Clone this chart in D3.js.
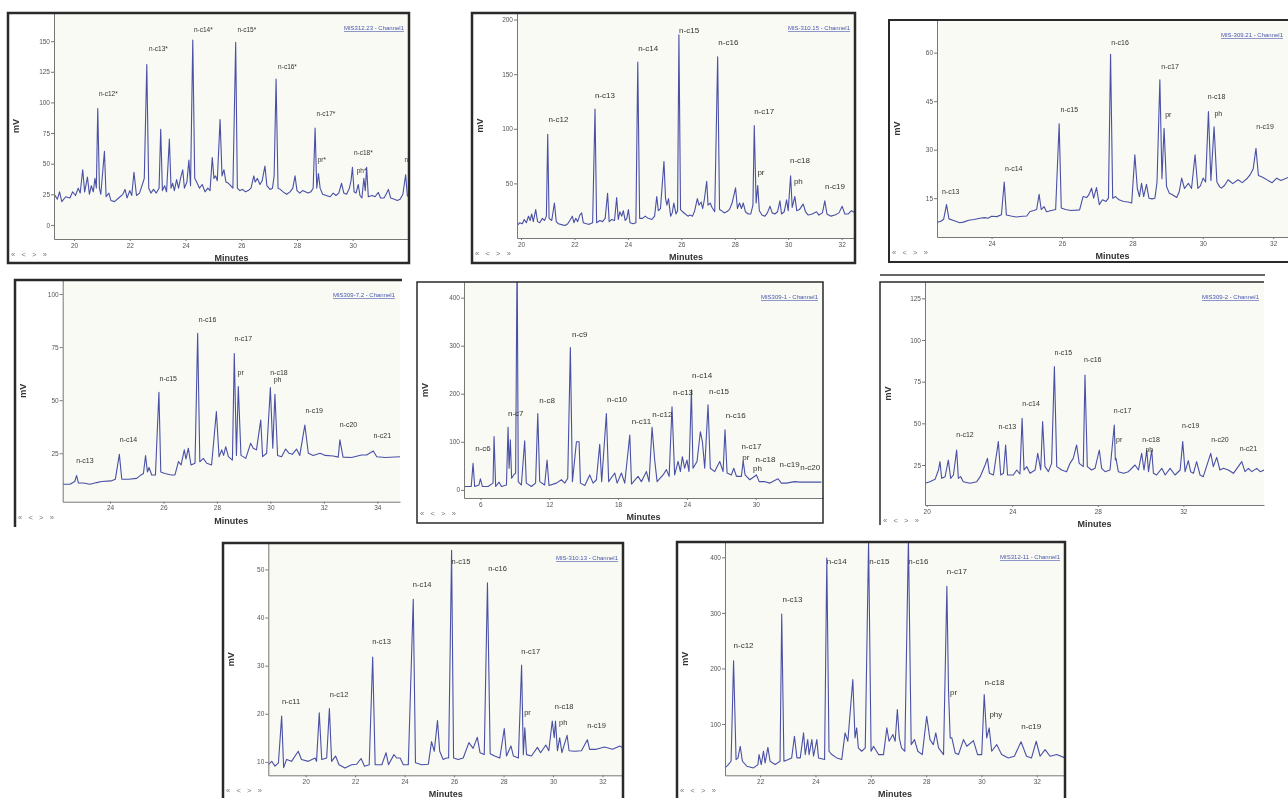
<!DOCTYPE html>
<html>
<head>
<meta charset="utf-8">
<script src="https://cdn.jsdelivr.net/npm/d3@7"></script>
<style>
body{margin:0;background:#fff;}
svg{display:block;font-family:Arial,"Liberation Sans",sans-serif;will-change:transform;}
</style>
</head>
<body>
<div id="container"></div>
<script>
// chromatogram traces, [minutes, mV]
var trace1=[[19.29,25],[19.4,21],[19.48,27],[19.56,19],[19.7,23],[19.85,22],[19.95,27],[20.05,24],[20.15,30],[20.22,26],[20.31,45],[20.38,27],[20.48,39],[20.55,25],[20.62,32],[20.69,27],[20.75,38],[20.8,30],[20.85,95],[20.91,30],[20.96,25],[21.09,60],[21.15,23],[21.25,26],[21.32,20],[21.45,19],[21.6,22],[21.75,25],[21.83,29],[21.9,22],[22.0,28],[22.07,24],[22.15,43],[22.24,24],[22.35,26],[22.45,33],[22.52,38],[22.61,131],[22.68,30],[22.76,26],[22.85,29],[22.95,26],[23.05,30],[23.11,78],[23.17,28],[23.25,32],[23.32,27],[23.42,70],[23.48,30],[23.54,34],[23.6,28],[23.68,37],[23.75,30],[23.82,38],[23.9,45],[23.96,30],[24.05,35],[24.12,53],[24.18,32],[24.26,151],[24.33,38],[24.4,35],[24.5,30],[24.6,33],[24.7,27],[24.8,30],[24.88,28],[24.96,55],[25.02,38],[25.08,40],[25.14,36],[25.24,86],[25.31,40],[25.38,45],[25.45,35],[25.54,34],[25.62,32],[25.7,30],[25.8,149],[25.86,30],[25.95,28],[26.05,29],[26.15,27],[26.25,28],[26.35,30],[26.45,40],[26.5,35],[26.58,38],[26.67,33],[26.75,36],[26.85,48],[26.92,32],[27.03,29],[27.12,30],[27.18,40],[27.25,119],[27.32,30],[27.4,29],[27.5,27],[27.63,25],[27.75,27],[27.85,30],[27.93,40],[28.0,28],[28.1,26],[28.2,28],[28.3,27],[28.4,26],[28.5,27],[28.58,30],[28.65,79],[28.71,30],[28.77,42],[28.83,30],[28.92,25],[29.05,24],[29.19,23],[29.3,26],[29.4,24],[29.5,26],[29.6,34],[29.68,26],[29.78,25],[29.88,30],[29.94,36],[29.99,47],[30.05,27],[30.12,26],[30.2,33],[30.26,24],[30.33,22],[30.4,38],[30.45,28],[30.5,47],[30.56,23],[30.7,24],[30.8,23],[30.92,26.5],[31.0,22],[31.12,22],[31.2,25],[31.28,29],[31.36,22],[31.5,21],[31.6,20],[31.7,21],[31.8,25],[31.9,41],[31.96,24],[32.02,22]];
var trace2=[[19.85,11],[19.95,14],[20.05,13],[20.12,17],[20.2,14],[20.28,20],[20.34,16],[20.4,22],[20.46,15],[20.55,26],[20.62,15],[20.7,14],[20.8,18],[20.88,16],[20.95,20],[21.0,95],[21.05,18],[21.15,16],[21.25,32],[21.32,15],[21.4,13],[21.55,12],[21.65,11.5],[21.75,13],[21.85,17],[21.92,20],[21.98,14],[22.05,18],[22.12,15],[22.2,21],[22.27,23],[22.33,14],[22.45,13],[22.55,12.5],[22.68,14],[22.77,118],[22.83,14],[22.95,16],[23.05,15],[23.15,18],[23.24,41],[23.3,15],[23.4,17],[23.5,16],[23.58,37],[23.64,17],[23.7,24],[23.77,20],[23.83,25],[23.9,16],[23.96,18],[24.02,26],[24.08,14],[24.2,13],[24.3,14],[24.37,161],[24.44,18],[24.55,18],[24.65,20],[24.76,18],[24.9,17],[25.0,20],[25.08,38],[25.14,25],[25.22,27],[25.35,70],[25.41,36],[25.46,30],[25.52,36],[25.6,20],[25.66,23],[25.72,32],[25.8,22],[25.86,25],[25.91,186],[25.97,26],[26.05,24],[26.15,22],[26.25,20],[26.32,21],[26.42,20],[26.5,25],[26.6,36],[26.66,30],[26.74,33],[26.8,27],[26.86,35],[26.95,52],[27.0,30],[27.08,32],[27.15,28],[27.25,24],[27.36,166],[27.43,26],[27.51,25],[27.6,23],[27.7,24],[27.8,26],[27.9,32],[28.03,46],[28.1,27],[28.18,32],[28.25,27],[28.32,32],[28.4,24],[28.5,22],[28.6,22],[28.68,30],[28.73,103],[28.8,32],[28.86,48],[28.92,25],[29.02,21],[29.13,20],[29.22,23],[29.32,29],[29.4,23],[29.5,22],[29.6,24],[29.69,34],[29.75,22],[29.85,24],[29.94,35],[30.0,25],[30.09,57],[30.15,28],[30.25,38],[30.32,25],[30.42,26],[30.56,31],[30.65,24],[30.75,21],[30.9,22],[31.06,24],[31.15,21],[31.28,23],[31.37,34],[31.45,22],[31.6,20],[31.75,21],[31.9,23],[32.02,29],[32.12,22],[32.25,22],[32.37,25],[32.5,23]];
var trace3=[[22.46,7.6],[22.55,7.8],[22.64,8.5],[22.72,13],[22.79,8.6],[22.9,8.2],[23.0,7.8],[23.1,7.4],[23.2,7.6],[23.35,8.2],[23.5,8.4],[23.67,8.8],[23.8,9],[23.9,8.8],[24.0,9.4],[24.15,9.3],[24.28,9.9],[24.36,20],[24.42,9.8],[24.55,9.5],[24.7,9.2],[24.88,9.4],[25.0,9.5],[25.09,10.9],[25.2,11.2],[25.28,11.5],[25.35,16.2],[25.41,11.5],[25.49,12.4],[25.56,10.8],[25.7,11.2],[25.82,11.5],[25.92,38],[25.98,12],[26.1,11.5],[26.25,11.2],[26.4,11.3],[26.5,11.4],[26.6,15.5],[26.7,15.2],[26.76,16],[26.84,18.1],[26.9,15],[26.98,18.3],[27.06,13],[27.15,14.5],[27.25,14],[27.32,15],[27.38,59.5],[27.44,15],[27.52,15.5],[27.62,14.5],[27.75,14],[27.88,13.8],[27.98,13.5],[28.07,28.4],[28.14,18],[28.2,15.5],[28.26,19.6],[28.32,15.5],[28.4,19.3],[28.47,15],[28.56,14.8],[28.64,15],[28.7,20],[28.78,51.6],[28.84,21],[28.9,36.6],[28.97,18.6],[29.05,16.5],[29.15,16],[29.26,15.2],[29.33,17],[29.4,21.2],[29.48,18],[29.59,19.6],[29.68,18],[29.78,28.4],[29.86,18],[29.93,18.8],[30.01,21.2],[30.08,20],[30.16,41.8],[30.23,20.5],[30.32,37.1],[30.4,20],[30.48,18.5],[30.53,18.1],[30.62,19],[30.72,20.7],[30.85,19.5],[31.0,20.7],[31.12,19.8],[31.25,21],[31.34,22.2],[31.43,24],[31.51,30.4],[31.58,22],[31.7,21.5],[31.85,20.5],[31.97,19.8],[32.1,21.2],[32.22,20.5],[32.42,21.4]];
var trace4=[[22.23,10.4],[22.5,10.4],[22.68,11.7],[22.75,14.5],[22.82,11],[23.0,11],[23.25,10.4],[23.5,11.2],[23.69,11.7],[24.04,12],[24.2,12.8],[24.35,24.5],[24.44,12.8],[24.7,12.8],[25.0,13.2],[25.16,14.8],[25.25,15.5],[25.33,23.9],[25.4,16.2],[25.46,18.3],[25.56,14.8],[25.7,14.8],[25.83,53.7],[25.9,16.2],[26.05,15.5],[26.3,14.8],[26.43,14.8],[26.56,21.1],[26.66,19.5],[26.78,26.6],[26.84,22.3],[26.93,27.4],[27.03,19.5],[27.18,20.3],[27.28,81.5],[27.36,21],[27.49,22.6],[27.62,20.3],[27.8,19.5],[27.98,44.6],[28.08,23.4],[28.18,26.6],[28.25,24],[28.33,28.1],[28.43,23.4],[28.58,21.8],[28.65,72],[28.73,24],[28.8,56.4],[28.9,24],[29.08,22.6],[29.26,29.7],[29.36,27.4],[29.48,26.6],[29.64,40.7],[29.71,23.4],[29.86,25],[30.0,55.9],[30.09,27.4],[30.17,52.8],[30.27,24],[30.42,23.4],[30.57,27],[30.7,25],[30.82,24.5],[30.98,27],[31.1,24],[31.29,38.3],[31.42,25],[31.6,24],[31.86,25],[32.05,24],[32.35,23.7],[32.54,23.2],[32.6,31.3],[32.72,23.2],[33.04,23],[33.41,24.2],[33.6,24.2],[33.85,26.1],[33.98,23.4],[34.3,23],[34.85,23.4]];
var trace5=[[4.58,7],[5.2,7],[5.36,55],[5.5,7],[5.87,10],[6.0,23],[6.17,7],[6.67,7],[7.1,14],[7.19,111],[7.33,7],[7.63,16],[7.83,7],[8.27,10],[8.41,130],[8.5,45],[8.61,104],[8.72,24],[8.9,31],[9.07,35],[9.2,500],[9.3,17],[9.57,10],[9.86,102],[10.0,14],[10.44,7],[10.81,14],[11.0,159],[11.17,17],[11.6,10],[11.81,62],[11.98,9],[12.62,14],[13.06,21],[13.35,14],[13.61,24],[13.84,296],[14.02,17],[14.37,100],[14.6,100],[14.72,14],[15.1,9],[15.53,31],[15.82,14],[16.11,21],[16.4,95],[16.57,17],[16.98,159],[17.18,17],[17.71,35],[17.92,14],[18.29,35],[18.58,14],[19.02,114],[19.17,12],[19.74,28],[20.03,17],[20.47,38],[20.7,17],[20.96,130],[21.19,62],[21.4,17],[21.92,31],[22.21,42],[22.45,28],[22.7,173],[22.93,31],[23.23,59],[23.43,38],[23.6,69],[23.8,45],[24.0,62],[24.18,38],[24.39,208],[24.53,45],[24.88,59],[25.17,121],[25.35,100],[25.55,45],[25.84,177],[26.04,45],[26.42,38],[26.86,59],[27.15,38],[27.32,125],[27.5,35],[27.87,31],[28.08,45],[28.32,28],[28.75,28],[28.9,60],[29.07,31],[29.48,21],[30.06,31],[30.3,17],[30.8,17],[31.23,14],[31.94,23],[32.23,14],[32.66,14],[33.4,17],[33.84,16],[35.72,16]];
var trace6=[[19.92,14],[20.15,15],[20.39,16.4],[20.55,22],[20.62,27],[20.7,17],[20.86,18],[21.01,28],[21.12,17],[21.25,19],[21.4,34],[21.48,17],[21.59,18],[21.71,15],[22.03,14],[22.34,15],[22.5,18],[22.73,25],[22.84,29],[22.93,20],[23.12,19],[23.35,39],[23.46,19],[23.59,20],[23.69,37],[23.78,19],[24.05,19],[24.21,22],[24.36,19.6],[24.46,53],[24.55,22],[24.68,24],[24.83,20],[25.07,22],[25.19,32],[25.33,22],[25.42,51],[25.53,24],[25.69,21],[25.84,26],[25.97,84],[26.08,24],[26.31,22],[26.54,21],[26.7,26],[26.85,29],[27.01,37],[27.13,26],[27.32,24],[27.4,79],[27.51,24],[27.71,22],[27.87,23],[28.07,34],[28.18,23],[28.34,21],[28.57,22],[28.77,49],[28.82,28],[28.85,29],[28.96,21],[29.2,20],[29.43,21],[29.74,25],[29.9,22],[30.05,32],[30.16,22],[30.29,34],[30.37,21],[30.52,34],[30.6,20],[30.75,19],[30.99,23],[31.15,19],[31.38,23],[31.61,19],[31.85,22],[31.97,39],[32.08,21],[32.23,27.6],[32.34,21],[32.47,20],[32.62,27],[32.78,19],[32.93,18],[33.28,32],[33.4,24],[33.56,29.6],[33.71,22],[33.87,23],[34.1,22],[34.34,20],[34.73,27],[34.88,21],[35.04,23],[35.2,21],[35.43,23],[35.59,21],[35.79,22]];
var trace7=[[18.49,9.4],[18.63,10.1],[18.76,9.1],[18.9,9.8],[19.03,19.5],[19.11,8.8],[19.23,10.5],[19.43,10.1],[19.7,12.2],[19.83,10.5],[20.11,10.1],[20.38,10.8],[20.44,10.1],[20.55,20.2],[20.65,10.5],[20.85,10.8],[20.96,21.1],[21.05,10.1],[21.21,11.2],[21.35,9.4],[21.59,8.7],[21.86,9.4],[22.06,9.5],[22.24,10.7],[22.38,9.1],[22.57,9.4],[22.71,31.8],[22.81,9.4],[23.08,9.4],[23.25,11.9],[23.35,9.4],[23.57,11.5],[23.68,10.8],[23.82,10.8],[23.95,9.4],[24.15,9.4],[24.35,43.8],[24.44,9.8],[24.69,9.4],[24.96,9.5],[25.09,14.2],[25.2,12.2],[25.33,18.6],[25.42,12.2],[25.56,10.5],[25.69,10.8],[25.78,10.8],[25.9,54],[25.98,10.8],[26.17,10.5],[26.37,10.8],[26.6,14],[26.77,12.8],[26.94,15.1],[27.05,11.9],[27.22,11.5],[27.35,47.2],[27.46,11.7],[27.64,11.2],[27.85,10.8],[28.03,16.9],[28.12,11.2],[28.3,13.3],[28.4,11.2],[28.6,10.8],[28.73,30.1],[28.8,11.5],[28.86,17.1],[28.93,11.5],[29.13,11.2],[29.37,13],[29.5,11.9],[29.71,13.5],[29.83,12.3],[29.97,18.5],[30.05,15],[30.1,18.5],[30.18,12.3],[30.27,15],[30.36,11.9],[30.57,15.5],[30.65,12.3],[30.88,12.2],[31.15,12.3],[31.39,14.6],[31.48,12.6],[31.75,12.6],[32.08,13.1],[32.41,12.6],[32.7,13.3],[32.83,12.9]];
var trace8=[[20.73,21],[20.85,27],[20.95,33],[21.04,214],[21.13,36],[21.2,39],[21.28,60],[21.36,33],[21.52,24],[21.76,21],[21.92,27],[21.96,45],[22.04,27],[22.12,51],[22.18,30],[22.28,58],[22.36,33],[22.54,27],[22.72,33],[22.78,298],[22.86,33],[23.02,36],[23.14,39],[23.24,78],[23.33,39],[23.45,39],[23.57,84],[23.63,45],[23.72,72],[23.77,45],[23.87,72],[23.93,42],[24.05,72],[24.11,39],[24.33,36],[24.41,399],[24.49,51],[24.59,45],[24.77,39],[24.95,36],[25.07,84],[25.17,69],[25.35,180],[25.43,75],[25.49,93],[25.55,57],[25.67,51],[25.8,57],[25.92,430],[26.01,51],[26.1,60],[26.28,45],[26.46,45],[26.58,93],[26.66,69],[26.8,81],[26.88,69],[26.96,126],[27.03,75],[27.11,57],[27.23,51],[27.36,435],[27.46,63],[27.58,72],[27.7,51],[27.86,45],[28.02,114],[28.14,72],[28.26,63],[28.35,84],[28.45,57],[28.63,45],[28.75,348],[28.81,159],[28.87,75],[28.93,75],[29.05,48],[29.17,45],[29.35,72],[29.47,60],[29.71,70],[29.86,45],[30.01,45],[30.1,153],[30.19,75],[30.28,93],[30.37,51],[30.55,63],[30.73,45],[30.97,39],[31.19,42],[31.43,68],[31.63,42],[31.81,39],[31.98,69],[32.12,42],[32.3,54],[32.48,42],[32.72,45],[33.02,39]];

// peak names with the [minutes, mV] spot their text sits at
var peaks1=[["n-c12*",21.23,107],["n-c13*",23.03,143.7],["n-c14*",24.64,159.5],["n-c15*",26.2,159],["n-c16*",27.66,129.5],["n-c17*",29.04,90.7],["pr*",28.89,53],["n-c18*",30.38,58.9],["ph*",30.32,44],["n-c19*",32.2,53]];
var peaks2=[["n-c12",21.4,108.5],["n-c13",23.14,130.5],["n-c14",24.76,174],["n-c15",26.29,190],["n-c16",27.76,179],["n-c17",29.1,116],["pr",28.98,60],["n-c18",30.44,71],["ph",30.38,52],["n-c19",31.75,47.6]];
var peaks3=[["n-c13",22.84,17.1],["n-c14",24.63,24.3],["n-c15",26.21,42.5],["n-c16",27.65,63.2],["n-c17",29.07,55.7],["pr",29.02,41],["n-c18",30.39,46.4],["ph",30.44,41.3],["n-c19",31.77,37.1]];
var peaks4=[["n-c13",23.06,21.4],["n-c14",24.69,31.7],["n-c15",26.18,60.3],["n-c16",27.65,88.2],["n-c17",28.99,79.1],["pr",28.89,63.1],["n-c18",30.32,63],["ph",30.27,59.5],["n-c19",31.64,44.9],["n-c20",32.92,38.3],["n-c21",34.19,33.2]];
var peaks5=[["n-c6",6.23,86.7],["n-c7",9.08,159.4],["n-c8",11.81,187],["n-c9",14.66,323.7],["n-c10",17.91,189],["n-c11",20.03,143.5],["n-c12",21.86,157.4],["n-c13",23.66,203],["n-c14",25.32,237.8],["n-c15",26.8,206],["n-c16",28.25,154.6],["n-c17",29.62,90],["pr",29.13,67],["ph",30.15,44],["n-c18",30.85,64],["n-c19",32.95,54],["n-c20",34.75,48]];
var peaks6=[["n-c12",21.79,43],["n-c13",23.77,48],["n-c14",24.88,61.6],["n-c15",26.39,92.4],["n-c16",27.76,88],["n-c17",29.16,57.6],["pr",29.0,40.4],["n-c18",30.49,40.4],["ph",30.41,34],["n-c19",32.34,48.4],["n-c20",33.71,40.4],["n-c21",35.04,35]];
var peaks7=[["n-c11",19.41,22.6],["n-c12",21.35,24],["n-c13",23.07,35],["n-c14",24.71,46.9],["n-c15",26.28,51.7],["n-c16",27.76,50.3],["n-c17",29.1,33],["pr",28.97,20.2],["n-c18",30.45,21.6],["ph",30.41,18.3],["n-c19",31.76,17.6],["n-c20",33.15,16.7]];
var peaks8=[["n-c12",21.4,241.6],["n-c13",23.17,325],["n-c14",24.77,392.8],["n-c15",26.31,392.8],["n-c16",27.72,392.8],["n-c17",29.11,376],["pr",28.99,157.6],["n-c18",30.47,175.6],["phy",30.52,118],["n-c19",31.8,95.8]];

var xTicks1=[20,22,24,26,28,30], yTicks1=[0,25,50,75,100,125,150];
var xTicks2=[20,22,24,26,28,30,32], yTicks2=[50,100,150,200];
var xTicks3=[24,26,28,30,32], yTicks3=[15,30,45,60];
var xTicks4=[24,26,28,30,32,34], yTicks4=[25,50,75,100];
var xTicks5=[6,12,18,24,30], yTicks5=[0,100,200,300,400];
var xTicks6=[20,24,28,32], yTicks6=[25,50,75,100,125];
var xTicks7=[20,22,24,26,28,30,32], yTicks7=[10,20,30,40,50];
var xTicks8=[22,24,26,28,30,32], yTicks8=[100,200,300,400];

var channelNames=["MIS312.23 - Channel1","MIS-310.15 - Channel1","MIS-309.21 - Channel1","MIS309-7.2 - Channel1","MIS309-1 - Channel1","MIS309-2 - Channel1","MIS-310.13 - Channel1","MIS312-11 - Channel1"];

var traces=[trace1,trace2,trace3,trace4,trace5,trace6,trace7,trace8];
var peakSets=[peaks1,peaks2,peaks3,peaks4,peaks5,peaks6,peaks7,peaks8];
var xTickSets=[xTicks1,xTicks2,xTicks3,xTicks4,xTicks5,xTicks6,xTicks7,xTicks8];
var yTickSets=[yTicks1,yTicks2,yTicks3,yTicks4,yTicks5,yTicks6,yTicks7,yTicks8];

// where each screenshot sits on the page
var layout=[
  {frame:[8,13,401,250], plot:[54,13,409,239], xDom:[19.28,32.02], yDom:[-11.5,173], fs:6.5, bw:2.5, open:false},
  {frame:[472,13,383,250], plot:[517,13,855,238], xDom:[19.85,32.5], yDom:[0,206], fs:8, bw:2.5, open:false},
  {frame:[889,20,401,242], plot:[937,20,1288,237], xDom:[22.45,32.42], yDom:[3,70.1], fs:7, bw:2, open:false},
  {frame:[15,280,387,247], plot:[62.7,280,400,501.7], xDom:[22.23,34.85], yDom:[2.2,106.6], fs:7, bw:2.5, open:true},
  {frame:[417,282,406,241], plot:[464,282,823,498], xDom:[4.57,35.86], yDom:[-17,432.6], fs:8, bw:1.5, open:false},
  {frame:[880,282,384,243], plot:[925,282,1264,505], xDom:[19.92,35.77], yDom:[1,134.8], fs:7, bw:1.5, open:true},
  {frame:[223,543,400,257], plot:[268.3,543,623,775.3], xDom:[18.49,32.83], yDom:[7.2,55.5], fs:7.5, bw:2.5, open:false},
  {frame:[677,542,388,258], plot:[725,542,1065,775.3], xDom:[20.73,33.02], yDom:[7.7,427.7], fs:8, bw:2.5, open:false}
];

var width=1288, height=798;
var svg=d3.select('#container').append('svg')
  .attr('width',width).attr('height',height)
  .style('background-color','white');

// thin rule over the sixth screenshot
svg.append('line').attr('x1',880).attr('x2',1265).attr('y1',275).attr('y2',275)
  .attr('stroke','#333').attr('stroke-width',1.5);

layout.forEach(function(L,i){
  var g=svg.append('g');
  var f=L.frame, p=L.plot;

  var x=d3.scaleLinear().domain(L.xDom).range([p[0],p[2]]);
  var y=d3.scaleLinear().domain(L.yDom).range([p[3],p[1]]);

  g.append('rect').attr('x',f[0]).attr('y',f[1]).attr('width',f[2]).attr('height',f[3])
    .attr('fill','#fff');

  g.append('rect').attr('x',p[0]).attr('y',p[1]).attr('width',p[2]-p[0]).attr('height',p[3]-p[1])
    .attr('fill','#f8faf3');

  g.append('clipPath').attr('id','clip'+i)
    .append('rect').attr('x',p[0]).attr('y',p[1]).attr('width',p[2]-p[0]).attr('height',p[3]-p[1]);

  var line=d3.line().x(function(d){return x(d[0]);}).y(function(d){return y(d[1]);});
  g.append('path').datum(traces[i])
    .attr('clip-path','url(#clip'+i+')')
    .attr('d',line)
    .attr('fill','none')
    .attr('stroke','#4a50a6')
    .attr('stroke-width',1.1)
    .attr('stroke-linejoin','round');

  var yAxis=d3.axisLeft(y).tickValues(yTickSets[i]).tickSize(3).tickSizeOuter(0).tickPadding(1);
  var xAxis=d3.axisBottom(x).tickValues(xTickSets[i]).tickSize(2).tickSizeOuter(0).tickPadding(2);

  var ya=g.append('g').attr('transform','translate('+p[0]+',0)').call(yAxis);
  var xa=g.append('g').attr('transform','translate(0,'+p[3]+')').call(xAxis);
  [ya,xa].forEach(function(a){
    a.select('.domain').attr('stroke','#777');
    a.selectAll('.tick line').attr('stroke','#777');
    a.selectAll('.tick text').attr('fill','#555').style('font-size','6.5px')
      .style('font-family','Arial,"Liberation Sans",sans-serif');
  });

  g.append('text').text('mV')
    .attr('transform','translate('+(f[0]+11)+','+((p[1]+p[3])/2)+') rotate(-90)')
    .attr('text-anchor','middle')
    .style('font-size','9px').style('font-weight','bold').attr('fill','#333');

  g.append('text').text('Minutes')
    .attr('x',(p[0]+p[2])/2).attr('y',p[3]+22)
    .attr('text-anchor','middle')
    .style('font-size','9px').style('font-weight','bold').attr('fill','#333');

  g.append('text').text('\u00ab   <   >   \u00bb')
    .attr('x',f[0]+3).attr('y',p[3]+18)
    .attr('xml:space','preserve')
    .style('white-space','pre')
    .style('font-size','7.5px').attr('fill','#777');

  g.append('text').text(channelNames[i])
    .attr('x',p[2]-5).attr('y',p[1]+17)
    .attr('text-anchor','end')
    .style('font-size','6px').style('text-decoration','underline')
    .attr('fill','#4a56b0');

  g.append('g').attr('clip-path','url(#clip'+i+')')
    .selectAll('text').data(peakSets[i]).enter().append('text')
    .text(function(d){return d[0];})
    .attr('x',function(d){return x(d[1]);})
    .attr('y',function(d){return y(d[2]);})
    .attr('dy','0.35em')
    .attr('text-anchor','middle')
    .style('font-size',L.fs+'px')
    .attr('fill','#333');

  if(L.open){
    // only the top and left edges of this screenshot show
    g.append('path')
      .attr('d','M'+f[0]+','+(f[1]+f[3])+'V'+f[1]+'H'+(f[0]+f[2]))
      .attr('fill','none').attr('stroke','#2a2a2a').attr('stroke-width',L.bw);
  }else{
    g.append('rect').attr('x',f[0]).attr('y',f[1]).attr('width',f[2]).attr('height',f[3])
      .attr('fill','none').attr('stroke','#2a2a2a').attr('stroke-width',L.bw);
  }
});
</script>
</body>
</html>
